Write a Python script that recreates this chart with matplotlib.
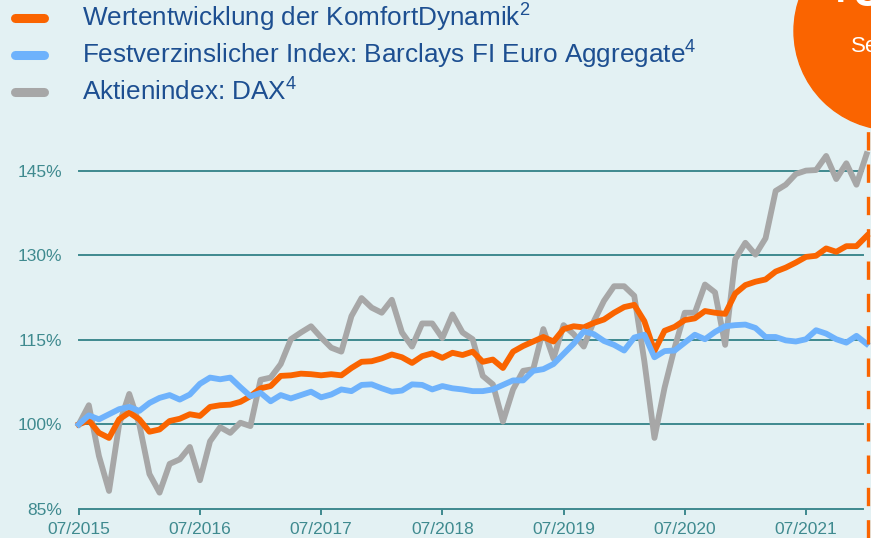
import matplotlib
matplotlib.use("Agg")
import matplotlib.pyplot as plt
from matplotlib.patches import Circle
from matplotlib.lines import Line2D
from matplotlib.transforms import IdentityTransform

plt.rcParams['font.family'] = ['Liberation Sans', 'DejaVu Sans']
plt.rcParams['mathtext.fontset'] = 'custom'
plt.rcParams['mathtext.rm'] = 'Liberation Sans'
plt.rcParams['mathtext.default'] = 'rm'

# monthly values, 07/2015 .. 01/2022 (index 07/2015 = 100 %)
komfort = [100, 100.7, 98.5, 97.6, 100.9, 102.1, 100.9, 98.7, 99.1, 100.6,
           101.0, 101.8, 101.5, 103.1, 103.4, 103.5, 104.0, 105.0, 106.4, 106.8,
           108.6, 108.7, 109.0, 108.9, 108.7, 108.9, 108.7, 110.0, 111.1, 111.2,
           111.7, 112.4, 111.9, 110.9, 112.1, 112.6, 111.8, 112.7, 112.3, 112.9,
           111.1, 111.5, 110.0, 112.9, 113.9, 114.7, 115.5, 114.7, 116.9, 117.4,
           117.2, 118.0, 118.6, 119.8, 120.8, 121.2, 118.3, 113.0, 116.6, 117.3,
           118.5, 118.8, 120.1, 119.8, 119.6, 123.2, 124.7, 125.3, 125.7, 127.1,
           127.8, 128.7, 129.7, 129.9, 131.2, 130.6, 131.6, 131.6, 133.4]
barclays = [100, 101.6, 100.9, 101.8, 102.7, 103.1, 102.4, 103.8, 104.7, 105.2,
            104.4, 105.3, 107.2, 108.3, 108.0, 108.3, 106.6, 105.0, 105.6, 104.1,
            105.2, 104.6, 105.2, 105.8, 104.8, 105.3, 106.2, 105.9, 107.0, 107.1,
            106.4, 105.8, 106.0, 107.1, 107.0, 106.2, 106.8, 106.4, 106.2, 105.9,
            105.9, 106.2, 107.0, 107.8, 107.8, 109.5, 109.8, 110.7, 112.5, 114.3,
            116.5, 116.0, 114.8, 114.1, 113.1, 115.4, 115.9, 111.9, 113.0, 113.1,
            114.5, 115.9, 115.1, 116.4, 117.4, 117.6, 117.7, 117.1, 115.5, 115.5,
            114.9, 114.7, 115.1, 116.7, 116.1, 115.1, 114.5, 115.7, 114.3]
dax = [100, 103.4, 94.4, 88.2, 100.0, 105.4, 100.0, 91.2, 87.9, 93.0,
       93.8, 96.0, 90.1, 97.0, 99.5, 98.5, 100.3, 99.7, 107.9, 108.3,
       110.7, 115.1, 116.3, 117.4, 115.4, 113.6, 112.9, 119.2, 122.4, 120.7,
       119.8, 122.1, 116.3, 113.8, 117.9, 117.9, 115.3, 119.5, 116.3, 115.1,
       108.6, 107.1, 100.5, 106.2, 109.5, 109.8, 116.9, 111.7, 117.6, 116.0,
       113.8, 118.3, 121.9, 124.5, 124.5, 122.8, 111.2, 97.6, 106.5, 113.6,
       119.8, 119.8, 124.8, 123.4, 114.1, 129.3, 132.2, 130.1, 133.0, 141.4,
       142.5, 144.4, 145.0, 145.1, 147.6, 143.5, 146.3, 142.5, 147.9]
labels = ['Wertentwicklung der KomfortDynamik$^{2}$',
          'Festverzinslicher Index: Barclays FI Euro Aggregate$^{4}$',
          'Aktienindex: DAX$^{4}$']
tick_pos = [0, 12, 24, 36, 48, 60, 72]
tick_labels = ['07/2015', '07/2016', '07/2017', '07/2018', '07/2019', '07/2020', '07/2021']
y_ticks = [85, 100, 115, 130, 145]

bg = '#E3F1F3'
teal = '#3F8A8F'
orange = '#FA6400'
blue = '#6EB2FC'
gray = '#A7A7A7'
navy = '#1D4F91'

fig = plt.figure(figsize=(8.71, 5.38), dpi=100)
fig.patch.set_facecolor(bg)
ax = fig.add_axes([0.0904, 0.0539, 0.9045, 0.6814])
ax.set_facecolor('none')
ax.set_xlim(0, 78)
ax.set_ylim(85, 150)

for v in y_ticks:
    ax.plot([0, 77.6], [v, v], color=teal, lw=1.4, zorder=1, clip_on=False)

x = list(range(len(dax)))
ax.plot(x, dax, color=gray, lw=4.2, zorder=3, clip_on=False, solid_joinstyle='round')
ax.plot(x, komfort, color=orange, lw=4.2, zorder=4, clip_on=False, solid_joinstyle='round')
ax.plot(x, barclays, color=blue, lw=4.2, zorder=5, clip_on=False, solid_joinstyle='round')

ax.axvline(78.15, ymin=-0.08, ymax=1.04, color=orange, lw=2.4,
           dashes=(5.5, 4.2), clip_on=False, zorder=6)

for s in ax.spines.values():
    s.set_visible(False)
ax.set_xticks(tick_pos)
ax.set_xticklabels(tick_labels, fontfamily='Liberation Sans')
ax.set_yticks(y_ticks)
ax.set_yticklabels([f'{v}%' for v in y_ticks], fontfamily='Liberation Sans')
ax.tick_params(axis='x', colors=teal, length=4, width=1.4, labelsize=12.5, pad=5, labelcolor=teal)
ax.tick_params(axis='y', length=0, labelsize=12.5, pad=12, labelcolor=teal)

# legend drawn by hand to match the layout
colors = [orange, blue, gray]
rows = [18, 55, 92]
for lab, c, yy in zip(labels, colors, rows):
    fig.add_artist(Line2D([15, 44], [538 - yy, 538 - yy], color=c, lw=6.5,
                          solid_capstyle='round', transform=IdentityTransform()))
    fig.text(82 / 871, 1 - yy / 538, lab, color=navy, fontsize=18.8, va='center')

# orange badge in the corner
fig.add_artist(Circle((893, 538 - 31), 99, color=orange, transform=IdentityTransform(), zorder=10))
fig.text(827 / 871, 1 + 6 / 538, '+3', color='white', fontsize=34, fontweight='bold',
         va='center', ha='left', zorder=11)
fig.text(851 / 871, 1 - 47 / 538, 'Seit', color='white', fontsize=16, va='center',
         ha='left', zorder=11)

fig.savefig('out.png', dpi=100, facecolor=bg)
